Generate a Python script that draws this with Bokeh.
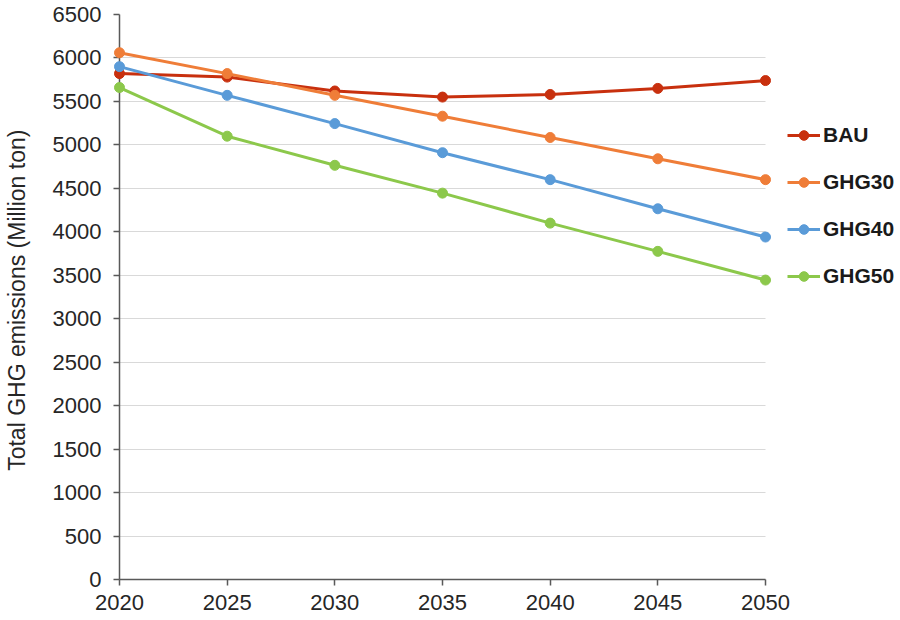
from bokeh.plotting import figure
from bokeh.models import ColumnDataSource, Legend, LegendItem, FixedTicker
from bokeh.embed import file_html
from bokeh.resources import INLINE

years = [2020, 2025, 2030, 2035, 2040, 2045, 2050]
bau = [5820, 5780, 5620, 5550, 5580, 5650, 5740]
ghg30 = [6060, 5820, 5570, 5330, 5085, 4840, 4600]
ghg40 = [5900, 5570, 5245, 4910, 4600, 4265, 3940]
ghg50 = [5660, 5100, 4765, 4445, 4100, 3775, 3445]
series_names = ["BAU", "GHG30", "GHG40", "GHG50"]
series_colors = ["#c8300e", "#ef7d38", "#5a9bd8", "#8cc84b"]
y_ticks = list(range(0, 6501, 500))
x_ticks = years

FONT = "Liberation Sans"

# plot area runs from 2020 to 2050 over 646 px; the frame is widened to the right
# edge so that the legend lives inside it (x axis and grid are bounded to 2020-2050)
X_END = 2020 + 30 * (900 - 119) / 646

p = figure(width=900, height=620, output_backend="svg", toolbar_location=None,
           x_range=(2020, X_END), y_range=(0, 6500),
           min_border_left=119, min_border_right=0, min_border_top=14, min_border_bottom=41)
p.outline_line_color = None
p.background_fill_color = "white"
p.border_fill_color = "white"

items = []
for name, vals, col in zip(series_names, [bau, ghg30, ghg40, ghg50], series_colors):
    src = ColumnDataSource(dict(x=years, y=vals))
    r1 = p.line("x", "y", source=src, line_color=col, line_width=3, level="overlay")
    r2 = p.scatter("x", "y", source=src, size=10, fill_color=col, line_color=col, level="overlay")
    items.append(LegendItem(label=name, renderers=[r1, r2]))

legend = Legend(items=items, location=(668, 291), spacing=23, padding=0, margin=0,
                glyph_width=33, glyph_height=24, label_height=24, label_standoff=3,
                label_text_font=FONT, label_text_font_size="21px", label_text_font_style="bold",
                label_text_color="#1a1a1a", background_fill_alpha=0, border_line_color=None)
p.add_layout(legend, "center")

p.xgrid.visible = False
p.ygrid.grid_line_color = "#d9d9d9"
p.ygrid.grid_line_width = 1
p.ygrid.ticker = FixedTicker(ticks=y_ticks)
p.ygrid.cross_bounds = (2020, 2050)

p.xaxis.ticker = FixedTicker(ticks=x_ticks)
p.xaxis.bounds = (2020, 2050)
p.yaxis.ticker = FixedTicker(ticks=y_ticks)
for ax in (p.xaxis[0], p.yaxis[0]):
    ax.axis_line_color = "#595959"
    ax.axis_line_width = 1.5
    ax.major_tick_line_color = "#595959"
    ax.major_tick_line_width = 1.5
    ax.major_tick_out = 6
    ax.major_tick_in = 0
    ax.minor_tick_line_color = None
    ax.major_label_text_font = FONT
    ax.major_label_text_font_size = "22px"
    ax.major_label_text_color = "#262626"

p.xaxis.major_label_standoff = 9
p.yaxis.major_label_standoff = 12
p.yaxis.axis_label = "Total GHG emissions  (Million ton)"
p.yaxis.axis_label_text_font = FONT
p.yaxis.axis_label_text_font_size = "23px"
p.yaxis.axis_label_text_font_style = "normal"
p.yaxis.axis_label_text_color = "#262626"
p.yaxis.axis_label_standoff = 20

open("out.html", "w").write(file_html(p, INLINE))
